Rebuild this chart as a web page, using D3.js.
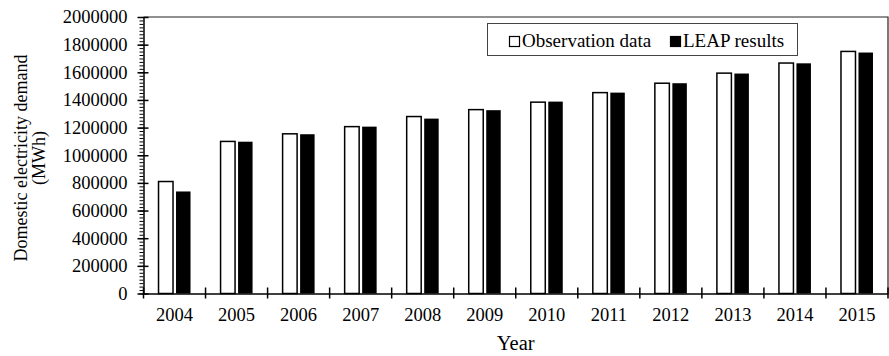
<!DOCTYPE html>
<html>
<head>
<meta charset="utf-8">
<script src="https://cdn.jsdelivr.net/npm/d3@7"></script>
<style>
  body { margin: 0; background: #fff; }
  svg { display: block; font-family: "Liberation Serif", "Times New Roman", serif; }
</style>
</head>
<body>
<div id="container"></div>
<script>
const WIDTH = 889;
const HEIGHT = 356;
const LEFT = 143.5;
const RIGHT = 888;
const TOP = 17;
const BOTTOM = 293.5;

var years = ["2004", "2005", "2006", "2007", "2008", "2009", "2010", "2011", "2012", "2013", "2014", "2015"];
var observation = [810000, 1100000, 1155000, 1207000, 1280000, 1330000, 1384000, 1453000, 1521000, 1594000, 1667000, 1751000];
var leap = [738000, 1098000, 1152000, 1207000, 1265000, 1326000, 1388000, 1453000, 1521000, 1591000, 1665000, 1743000];
var yTicks = [0, 200000, 400000, 600000, 800000, 1000000, 1200000, 1400000, 1600000, 1800000, 2000000];
var seriesNames = ["Observation data", "LEAP results"];

var XScale = d3.scaleBand().domain(years).range([LEFT, RIGHT]).padding(0);
var YScale = d3.scaleLinear().domain([0, 2000000]).range([BOTTOM, TOP]);

var barWidth = 14.5;
var gap = 3;

var svg = d3.select("#container").append("svg")
    .attr("width", WIDTH)
    .attr("height", HEIGHT);

// plot frame (top and right)
svg.append("path")
    .attr("d", "M" + LEFT + "," + TOP + "H" + RIGHT + "V" + BOTTOM)
    .attr("fill", "none")
    .attr("stroke", "#222")
    .attr("stroke-width", 1.2);

// bars
var centers = years.map(function (d) { return XScale(d) + XScale.bandwidth() / 2; });

svg.append("g").selectAll("rect")
    .data(observation)
    .join("rect")
    .attr("x", function (d, i) { return centers[i] - gap / 2 - barWidth; })
    .attr("y", function (d) { return YScale(d); })
    .attr("width", barWidth)
    .attr("height", function (d) { return BOTTOM - YScale(d); })
    .attr("fill", "#fff")
    .attr("stroke", "#000")
    .attr("stroke-width", 1.5);

svg.append("g").selectAll("rect")
    .data(leap)
    .join("rect")
    .attr("x", function (d, i) { return centers[i] + gap / 2; })
    .attr("y", function (d) { return YScale(d); })
    .attr("width", barWidth)
    .attr("height", function (d) { return BOTTOM - YScale(d); })
    .attr("fill", "#000");

// y axis: minor ticks
var minor = d3.range(0, 2000001, 25000);
svg.append("g")
    .attr("transform", "translate(" + LEFT + ",0)")
    .call(d3.axisLeft(YScale).tickValues(minor).tickSize(4).tickFormat(""))
    .call(function (g) { g.select(".domain").remove(); })
    .selectAll("line").attr("stroke-width", 1);

var yAxis = svg.append("g")
    .attr("transform", "translate(" + LEFT + ",0)")
    .call(d3.axisLeft(YScale).tickValues(yTicks).tickSizeOuter(0).tickSizeInner(5).tickPadding(11).tickFormat(d3.format("d")));
yAxis.selectAll(".tick line").attr("x2", 5).attr("x1", -6).attr("stroke-width", 1.5);
yAxis.select(".domain").attr("stroke-width", 1.5);
yAxis.selectAll("text").attr("font-size", "18.5px").attr("font-family", "Liberation Serif").attr("fill", "#000");

// x axis: labels at band centers, ticks at band boundaries
var xAxis = svg.append("g")
    .attr("transform", "translate(0," + BOTTOM + ")")
    .call(d3.axisBottom(XScale).tickSize(0).tickPadding(14).tickSizeOuter(0));
xAxis.select(".domain").attr("stroke-width", 1.5);
xAxis.selectAll("text").attr("font-size", "18.5px").attr("font-family", "Liberation Serif").attr("fill", "#000");

var bounds = years.map(function (d) { return XScale(d); }).concat([RIGHT]);
svg.append("g").selectAll("line")
    .data(bounds)
    .join("line")
    .attr("x1", function (d) { return d; })
    .attr("x2", function (d) { return d; })
    .attr("y1", BOTTOM - 6)
    .attr("y2", BOTTOM + 5)
    .attr("stroke", "#000")
    .attr("stroke-width", 1.5);

// axis titles
svg.append("text")
    .attr("x", (LEFT + RIGHT) / 2)
    .attr("y", 350)
    .attr("text-anchor", "middle")
    .attr("font-size", "20.5px")
    .text("Year");

var yTitle = svg.append("text")
    .attr("transform", "translate(27,158) rotate(-90)")
    .attr("text-anchor", "middle")
    .attr("font-size", "18px");
yTitle.append("tspan").attr("x", 0).attr("y", 0).text("Domestic electricity demand");
yTitle.append("tspan").attr("x", 0).attr("y", 18).text("(MWh)");

// legend
var legend = svg.append("g");
legend.append("rect")
    .attr("x", 487.5).attr("y", 23.5)
    .attr("width", 310).attr("height", 32)
    .attr("fill", "#fff")
    .attr("stroke", "#444")
    .attr("stroke-width", 1);

var legendX = [509, 670];
seriesNames.forEach(function (name, i) {
    legend.append("rect")
        .attr("x", legendX[i] + 0.5).attr("y", 36.5)
        .attr("width", 10).attr("height", 10)
        .attr("fill", i === 0 ? "#fff" : "#000")
        .attr("stroke", "#000")
        .attr("stroke-width", 1.2);
    legend.append("text")
        .attr("x", legendX[i] + 13)
        .attr("y", 46.5)
        .attr("font-size", "19px")
        .text(name);
});
</script>
</body>
</html>
